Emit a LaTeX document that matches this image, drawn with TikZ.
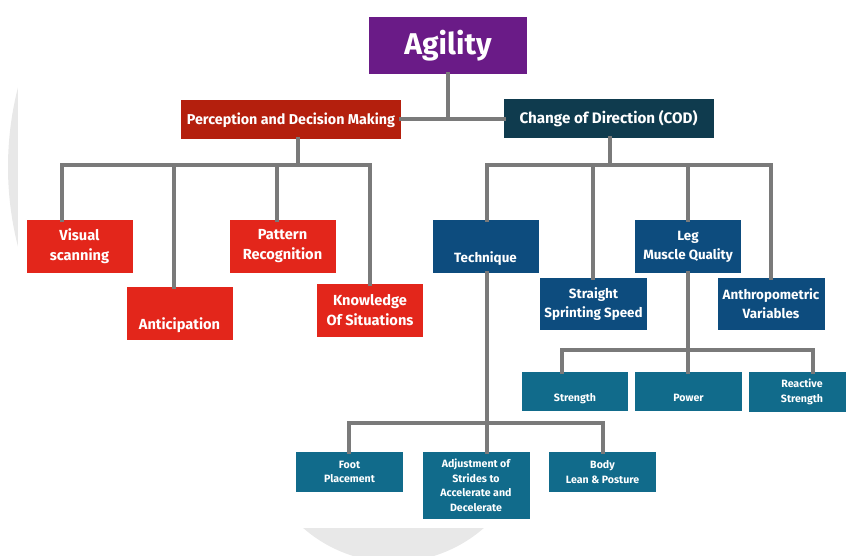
\documentclass[tikz,border=0pt]{standalone}
\usepackage{fontspec}
\setmainfont{Fira Sans}
\definecolor{cPurple}{HTML}{6A1B87}
\definecolor{cDarkRed}{HTML}{B41F0D}
\definecolor{cDarkTeal}{HTML}{0F3B4E}
\definecolor{cRed}{HTML}{E3261B}
\definecolor{cBlue}{HTML}{0D4C7E}
\definecolor{cTeal}{HTML}{116B8B}
\definecolor{cLine}{HTML}{7A7A7A}
\definecolor{cBg}{HTML}{E8E8E8}
\tikzset{
  bx/.style={rectangle, inner sep=0pt, text=white, align=center, font=\bfseries},
  fsA/.style={font=\bfseries\fontsize{30}{33}\selectfont},
  fsB/.style={font=\bfseries\fontsize{14.3}{17}\selectfont},
  fsB2/.style={font=\bfseries\fontsize{15.2}{17}\selectfont},
  fsC/.style={font=\bfseries\fontsize{14.6}{20}\selectfont},
  fsD/.style={font=\bfseries\fontsize{13.4}{19}\selectfont},
  fsE/.style={font=\bfseries\fontsize{10.6}{14.5}\selectfont},
  lowtext/.style={text height=#1, text depth=0pt},
  conn/.style={draw=cLine, line width=4.6pt, line join=miter, line cap=rect},
}
\begin{document}
\begin{tikzpicture}[x=1pt,y=-1pt]
\useasboundingbox (0,0) rectangle (846,556);
% faint background shapes
\fill[cBg] (328,167) circle (320);
\fill[cBg] (393.5,425) circle (137);
\fill[white] (18,-5) rectangle (851,528);

% level 0 / 1
\node[bx, fsA, fill=cPurple, minimum width=158pt, minimum height=57pt] (agility) at (448,45.5) {Agility};
\node[bx, fsB, fill=cDarkRed, minimum width=220pt, minimum height=39pt] (pdm) at (291,120) {Perception and Decision Making};
\node[bx, fsB2, fill=cDarkTeal, minimum width=210pt, minimum height=39pt] (cod) at (608.5,118.5) {Change of Direction (COD)};

% left children
\node[bx, fsC, fill=cRed, minimum width=106pt, minimum height=53pt] (vs) at (79.5,246.5) {Visual\\scanning};
\node[bx, fsC, fill=cRed, minimum width=106pt, minimum height=53pt, lowtext=31pt] (an) at (179.5,313.5) {Anticipation};
\node[bx, fsC, fill=cRed, minimum width=106pt, minimum height=53pt] (pr) at (282.5,246.5) {Pattern\\Recognition};
\node[bx, fsC, fill=cRed, minimum width=106pt, minimum height=53pt] (ks) at (370,310) {Knowledge\\Of Situations};

% right children
\node[bx, fsD, fill=cBlue, minimum width=106pt, minimum height=53pt, lowtext=32pt] (tech) at (485.5,246.5) {Technique};
\node[bx, fsD, fill=cBlue, minimum width=107pt, minimum height=52pt] (sss) at (593.5,304) {Straight\\Sprinting Speed};
\node[bx, fsD, fill=cBlue, minimum width=106pt, minimum height=53pt] (leg) at (688,246.5) {Leg\\Muscle Quality};
\node[bx, fsD, fill=cBlue, minimum width=107pt, minimum height=52pt] (anth) at (771,304) {Anthropometric\\Variables};

% leg muscle quality children
\node[bx, fsE, fill=cTeal, minimum width=106pt, minimum height=39pt, lowtext=20pt] (str) at (575,391.5) {Strength};
\node[bx, fsE, fill=cTeal, minimum width=107pt, minimum height=39pt, lowtext=20pt] (pow) at (688.5,391.5) {Power};
\node[bx, fsE, fill=cTeal, minimum width=106pt, minimum height=40pt] (rs) at (802,392) {Reactive\\Strength};

% technique children
\node[bx, fsE, fill=cTeal, minimum width=107pt, minimum height=40pt] (foot) at (349.5,472) {Foot\\Placement};
\node[bx, fsE, fill=cTeal, minimum width=107pt, minimum height=67pt] (adj) at (476,485.5) {Adjustment of\\Strides to\\Accelerate and\\Decelerate};
\node[bx, fsE, fill=cTeal, minimum width=107pt, minimum height=40pt] (body) at (602.5,472) {Body\\Lean \& Posture};

% junction coordinates
\coordinate (jTop) at (448,119);
\coordinate (jL) at (298,165);
\coordinate (jR) at (610,165);
\coordinate (vsT) at (62,165);
\coordinate (anT) at (174,165);
\coordinate (prT) at (277,165);
\coordinate (ksT) at (370,165);
\coordinate (techT) at (487,165);
\coordinate (sssT) at (593,165);
\coordinate (legT) at (688,165);
\coordinate (anthT) at (771,165);
\coordinate (jLeg) at (688,350);
\coordinate (strT) at (562,350);
\coordinate (rsT) at (813,350);
\coordinate (jTech) at (487,423);
\coordinate (footT) at (349,423);
\coordinate (bodyT) at (603,423);

% connectors
\draw[conn] (agility.south) -- (jTop);
\draw[conn] (pdm.east |- jTop) -- (cod.west |- jTop);

\draw[conn] (pdm.south -| jL) -- (jL);
\draw[conn] (vs.north -| vsT) -- (vsT) -- (ksT) -- (ks.north -| ksT);
\draw[conn] (anT) -- (an.north -| anT);
\draw[conn] (prT) -- (pr.north -| prT);

\draw[conn] (cod.south -| jR) -- (jR);
\draw[conn] (tech.north -| techT) -- (techT) -- (anthT) -- (anth.north -| anthT);
\draw[conn] (sssT) -- (sss.north -| sssT);
\draw[conn] (legT) -- (leg.north -| legT);

\draw[conn] (leg.south -| jLeg) -- (jLeg);
\draw[conn] (str.north -| strT) -- (strT) -- (rsT) -- (rs.north -| rsT);
\draw[conn] (jLeg) -- (pow.north -| jLeg);

\draw[conn] (tech.south -| jTech) -- (jTech);
\draw[conn] (foot.north -| footT) -- (footT) -- (bodyT) -- (body.north -| bodyT);
\draw[conn] (jTech) -- (adj.north -| jTech);
\end{tikzpicture}
\end{document}
